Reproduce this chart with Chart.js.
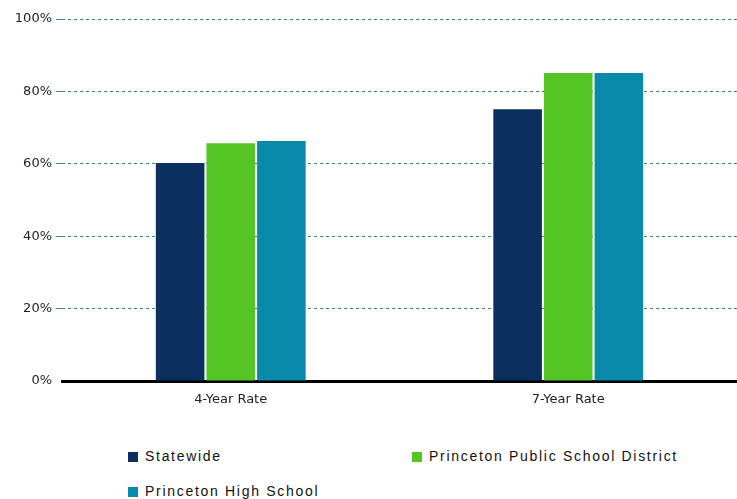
<!DOCTYPE html>
<html>
<head>
<meta charset="utf-8">
<script src="https://cdn.jsdelivr.net/npm/chart.js@4.4.1/dist/chart.umd.min.js"></script>
<style>
  html, body { margin: 0; padding: 0; background: #fff; }
  #wrap { position: relative; width: 737px; height: 499px; }
  #chart-box { position: absolute; left: 0; top: 0; width: 737px; height: 420px; }
  .legend-item {
    position: absolute;
    font-family: "Liberation Sans", Arial, sans-serif;
    font-size: 14px;
    letter-spacing: 1.7px;
    color: #111;
    white-space: nowrap;
  }
  .legend-item span.box {
    display: inline-block; width: 10px; height: 10px; margin-right: 7px; vertical-align: -1px;
  }
</style>
</head>
<body>
<div id="wrap">
  <div id="chart-box"><canvas id="chart"></canvas></div>
  <div id="legend"></div>
</div>
<script>
const categories = ['4-Year Rate', '7-Year Rate'];
const seriesNames = ['Statewide', 'Princeton Public School District', 'Princeton High School'];
const statewide = [60.2, 75.1];
const districtRate = [65.7, 85.1];
const highSchool = [66.3, 85.1];
const yTicks = [0, 20, 40, 60, 80, 100];

const colors = ['#0b2f5e', '#55c425', '#0a8aab'];
const seriesValues = [statewide, districtRate, highSchool];

const ctx = document.getElementById('chart').getContext('2d');
new Chart(ctx, {
  type: 'bar',
  data: {
    labels: categories,
    datasets: seriesNames.map((name, i) => ({
      label: name,
      data: seriesValues[i],
      backgroundColor: colors[i],
      borderWidth: 0,
      barPercentage: 0.96,
      categoryPercentage: 0.45,
    })),
  },
  options: {
    responsive: true,
    maintainAspectRatio: false,
    animation: false,
    layout: { padding: { top: 19, right: 0, left: 0, bottom: 0 } },
    plugins: { legend: { display: false }, tooltip: { enabled: false } },
    scales: {
      x: {
        grid: { display: false },
        border: { display: true, color: '#000', width: 3 },
        ticks: { color: '#222', font: { family: 'DejaVu Sans', size: 13 }, padding: 3 },
        afterFit: (scale) => { scale.height = 39; },
      },
      y: {
        min: 0,
        max: 100,
        afterBuildTicks: (scale) => { scale.ticks = yTicks.map(v => ({ value: v })); },
        grid: {
          color: (c) => (c.tick && c.tick.value === 0 ? 'rgba(0,0,0,0)' : '#3a809f'),
          lineWidth: 1,
          tickLength: 6,
        },
        border: { display: false, dash: [3, 3] },
        ticks: {
          color: '#222',
          font: { family: 'DejaVu Sans', size: 13 },
          padding: 4,
          callback: (v) => v + '%',
        },
        afterFit: (scale) => { scale.width = 62; },
      },
    },
  },
});

// HTML legend in two columns
const legendPos = [[128, 448], [412, 448], [128, 483]];
const legend = document.getElementById('legend');
seriesNames.forEach((name, i) => {
  const d = document.createElement('div');
  d.className = 'legend-item';
  d.style.left = legendPos[i][0] + 'px';
  d.style.top = legendPos[i][1] + 'px';
  d.innerHTML = '<span class="box" style="background:' + colors[i] + '"></span>' + name;
  legend.appendChild(d);
});
</script>
</body>
</html>
